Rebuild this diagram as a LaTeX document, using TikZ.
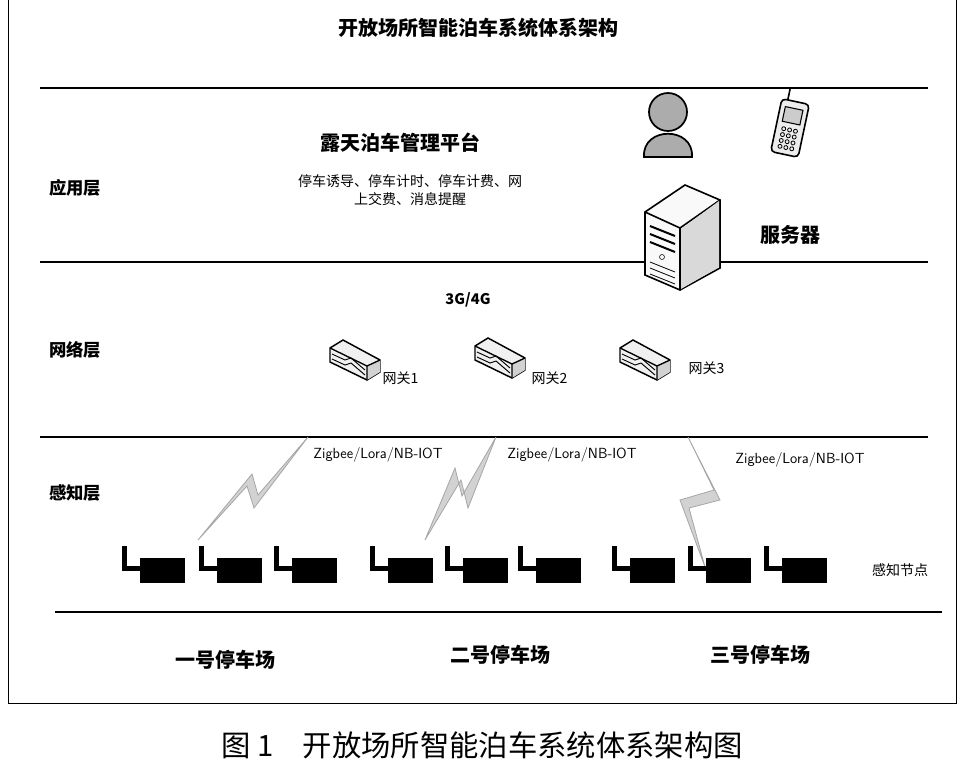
\documentclass[tikz,border=0pt]{standalone}
\usepackage{fontspec}
\setmainfont{Noto Sans CJK SC}
\usetikzlibrary{positioning}
\tikzset{
  layerline/.style={line width=1.8pt},
  layername/.style={font=\fontsize{13}{15}\selectfont\bfseries},
  bigname/.style={font=\fontsize{15}{18}\selectfont\bfseries},
  smalltext/.style={font=\fontsize{10.5}{13}\selectfont},
  bolt/.style={fill=gray!35, draw=gray!70, line width=0.6pt},
}
% sensor node: antenna and box, at lower left corner
\newcommand{\sensornode}[2]{%
  \fill (#1,#2-37) rectangle ++(5,25);
  \fill (#1,#2-12) rectangle ++(18,-5);
  \fill (#1+18,#2-25) rectangle ++(45,25);
}
% gateway box
\newcommand{\gatebox}[2]{%
  \begin{scope}[shift={(#1,#2)}]
    \filldraw[fill=gray!12, line width=1.1pt] (-25,-10) -- (-12,-18) -- (25,2) -- (25,14) -- (12,22) -- (-25,4) -- cycle;
    \fill[gray!35] (12,8) -- (25,2) -- (25,14) -- (12,22) -- cycle;
    \draw[line width=1pt] (-25,-10) -- (12,8) -- (25,2) (12,8) -- (12,22);
    \draw[line width=0.7pt] (-23,-4) -- (-10,2) -- (-4,0) -- (10,12);
    \draw[line width=0.7pt] (-23,1) -- (-10,7) -- (-4,5) -- (10,17);
  \end{scope}}
\begin{document}
\begin{tikzpicture}[x=0.75pt,y=-0.75pt]
\useasboundingbox (0,0) rectangle (964,768);
% frame
\draw[line width=0.6pt] (8,-2) rectangle (956,703);
\node[bigname] (title) at (478,28) {开放场所智能泊车系统体系架构};
% layer lines
\draw[layerline] (40,88) -- (928,88);
\draw[layerline] (40,262) -- (928,262);
\draw[layerline] (40,437) -- (928,437);
\draw[layerline] (55,612) -- (942,612);
% layer names
\node[layername] (app) at (75,188) {应用层};
\node[layername] (net) at (75,350) {网络层};
\node[layername] (sense) at (75,493) {感知层};
% application layer
\node[bigname] (platform) at (400,143) {露天泊车管理平台};
\node[smalltext, align=center] (funcs) at (410,190) {停车诱导、停车计时、停车计费、网\\上交费、消息提醒};
% person
\filldraw[fill=gray!65, line width=1.3pt] (644,157) .. controls (642,126) and (694,126) .. (692,157) -- cycle;
\filldraw[fill=gray!65, line width=1.3pt] (668,112) circle (19);
% phone
\begin{scope}[shift={(790,128)}, rotate=-12]
  \filldraw[fill=gray!15, line width=1.2pt, rounded corners=3pt] (-14,-27) rectangle (14,27);
  \draw[line width=1.2pt] (-8,-27) -- (-8,-38);
  \filldraw[fill=gray!40, line width=0.8pt] (-9,-20) rectangle (9,-5);
  \foreach \r in {0,1,2,3}
    \foreach \c in {-1,0,1}
      \draw[line width=0.6pt] (\c*6,2+\r*6) circle (2);
\end{scope}
% server
\filldraw[fill=gray!5, line width=1.2pt] (645,212) -- (685,185) -- (720,200) -- (720,268) -- (680,290) -- (645,275) -- cycle;
\draw[line width=1.2pt] (645,212) -- (680,228) -- (720,200) (680,228) -- (680,290);
\fill[gray!30] (681,229) -- (719,201) -- (719,267) -- (681,289) -- cycle;
\foreach \y in {226,234,242} \draw[line width=1.5pt] (650,\y) -- (675,\y+10);
\draw (662,257) circle (2.5);
\foreach \y in {262,268,274} \draw[line width=0.6pt] (650,\y) -- (675,\y+10);
\node[bigname] (server) at (790,235) {服务器};
% network layer
\node[font=\fontsize{11}{13}\selectfont\bfseries] (g34) at (468,300) {3G/4G};
\gatebox{355}{358}
\gatebox{500}{356}
\gatebox{645}{358}
\node[smalltext, anchor=west] (gw1) at (378,378) {网关1};
\node[smalltext, anchor=west] (gw2) at (527,378) {网关2};
\node[smalltext, anchor=west] (gw3) at (684,368) {网关3};
% lightning
\filldraw[bolt] (308,437) -- (258,495) -- (252,474) -- (198,540) -- (247,486) -- (254,508) -- cycle;
\filldraw[bolt] (496,437) -- (462,496) -- (455,468) -- (425,540) -- (461,480) -- (468,508) -- cycle;
\filldraw[bolt] (688,437) -- (714,490) -- (680,500) -- (705,567) -- (689,508) -- (720,500) -- cycle;
\node[font=\fontsize{11}{13}\selectfont\sffamily] (zig1) at (378,455) {Zigbee/Lora/NB-IOT};
\node[font=\fontsize{11}{13}\selectfont\sffamily] (zig2) at (572,455) {Zigbee/Lora/NB-IOT};
\node[font=\fontsize{11}{13}\selectfont\sffamily] (zig3) at (800,460) {Zigbee/Lora/NB-IOT};
% sensor nodes
\foreach \x in {122,199,274,370,445,518,612,688,764}
  \sensornode{\x}{583};
\node[smalltext] (nodes) at (900,570) {感知节点};
% parking lots
\node[bigname] (lot1) at (225,660) {一号停车场};
\node[bigname] (lot2) at (500,655) {二号停车场};
\node[bigname] (lot3) at (760,655) {三号停车场};
% caption
\node[font=\fontsize{22}{26}\selectfont] (caption) at (482,745) {图 1\quad 开放场所智能泊车系统体系架构图};
\end{tikzpicture}
\end{document}
